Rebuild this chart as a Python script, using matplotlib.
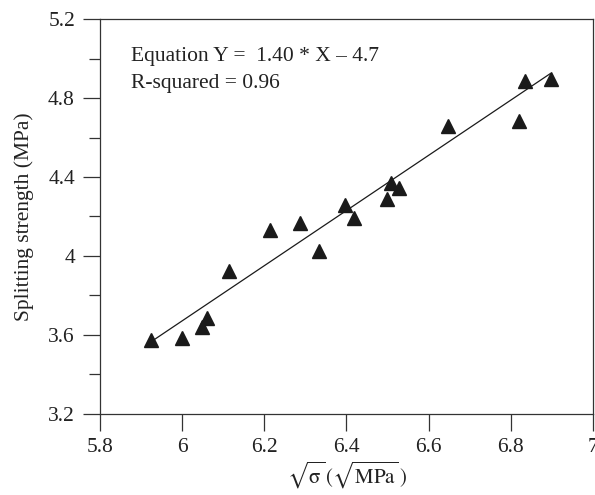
import matplotlib; matplotlib.use("Agg")
import matplotlib.pyplot as plt
from matplotlib.ticker import MultipleLocator, FuncFormatter

# data
sqrt_sigma = [5.924, 6.000, 6.048, 6.060, 6.115, 6.214, 6.287, 6.332, 6.397,
              6.419, 6.498, 6.508, 6.528, 6.648, 6.819, 6.834, 6.899]
split_strength = [3.573, 3.585, 3.641, 3.686, 3.923, 4.131, 4.165, 4.025, 4.258,
                  4.194, 4.287, 4.369, 4.346, 4.659, 4.686, 4.889, 4.898]
fit_slope = 1.40
fit_intercept = -4.73
fit_x = [5.93, 6.896]

plt.rcParams["font.family"] = ["Liberation Serif", "DejaVu Serif"]
plt.rcParams["mathtext.fontset"] = "stix"

fs = 15.5
fig = plt.figure(figsize=(5.95, 4.95), dpi=100)
ax = fig.add_axes([0.168, 0.1646, 0.8286, 0.7964])

ax.plot(sqrt_sigma, split_strength, linestyle="none", marker="^", markersize=9.5,
        color="#1a1a1a")
ax.plot(fit_x, [fit_slope * x + fit_intercept for x in fit_x], color="#1a1a1a", lw=0.9)

ax.set_xlim(5.8, 7.0)
ax.set_ylim(3.2, 5.2)
ax.xaxis.set_major_locator(MultipleLocator(0.2))
ax.yaxis.set_major_locator(MultipleLocator(0.4))
ax.yaxis.set_minor_locator(MultipleLocator(0.2))
fmt = FuncFormatter(lambda v, p: "%g" % round(v, 2))
ax.xaxis.set_major_formatter(fmt)
ax.yaxis.set_major_formatter(fmt)
ax.tick_params(which="major", direction="out", length=12, width=0.9, color="#333333",
               labelsize=fs, labelcolor="#222222")
ax.tick_params(which="minor", direction="out", length=8, width=0.9, color="#333333")
ax.tick_params(axis="x", pad=5.5)
ax.tick_params(axis="y", pad=6)
for s in ax.spines.values():
    s.set_linewidth(0.9)
    s.set_color("#333333")

ax.set_ylabel("Splitting strength (MPa)", fontsize=fs, color="#222222", labelpad=10)
ax.set_xlabel(r"$\sqrt{\mathrm{\sigma}}\,(\sqrt{\mathrm{MPa}}\,)$", fontsize=fs - 0.5,
              color="#222222", labelpad=2)

ax.text(0.063, 0.906, "Equation Y =  1.40 * X \u2013 4.7", transform=ax.transAxes,
        fontsize=fs, color="#222222", va="center")
ax.text(0.063, 0.837, "R-squared = 0.96", transform=ax.transAxes,
        fontsize=fs, color="#222222", va="center")

fig.savefig("out.png", dpi=100)
